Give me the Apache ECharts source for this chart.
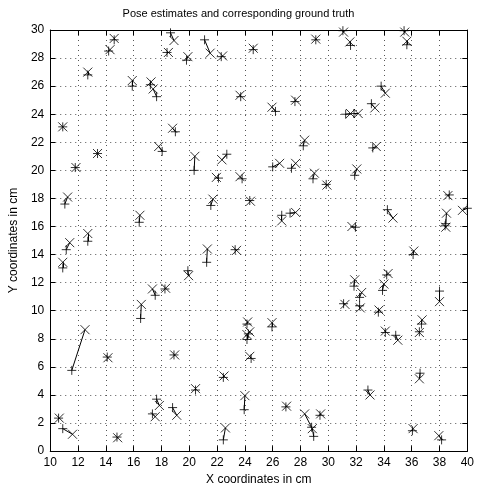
<!DOCTYPE html>
<html>
<head>
<meta charset="utf-8">
<script src="https://cdn.jsdelivr.net/npm/echarts@6/dist/echarts.min.js"></script>
<style>html,body{margin:0;padding:0;background:#fff}#c{width:477px;height:491px}</style>
</head>
<body>
<div id="c"></div>
<script>
// Pose estimates (x markers)
var estX = [14.6,14.3,12.7,15.9,17.25,17.4,18.5,18.9,19.9,10.9,18.8,13.4,17.8,11.85,21.5,22.4,24.6,29.1,23.65,25.95,27.65,28.3,20.4,22.35,26.5,27.65,31.1,31.55,35.5,35.65,34.1,33.35,31.6,32.15,33.45,11.25,16.45,12.7,11.4,10.9,19.95,17.35,18.3,16.55,21.95,23.65,29.0,29.9,21.7,24.4,26.65,27.65,21.3,23.4,32.05,38.6,34.65,38.5,38.45,39.65,31.7,36.15,31.9,32.4,34.3,34.0,38.0,31.2,32.3,33.65,25.95,34.1,35.0,36.75,36.55,36.55,33.0,27.0,28.3,28.85,29.45,36.1,37.95,12.5,14.15,18.95,10.65,11.6,14.85,17.85,17.55,19.1,24.2,24.35,24.15,24.35,22.5,20.45,24.0,22.6];
var estY = [29.4,28.6,27.0,26.4,26.3,25.8,28.4,29.25,28.1,23.1,23.0,21.2,21.7,20.2,28.35,28.15,28.7,29.35,25.35,24.5,25.0,22.15,21.0,20.75,20.5,20.5,29.85,29.15,29.85,29.2,25.5,24.45,24.05,24.05,21.7,18.1,16.8,15.5,14.85,13.45,12.5,11.55,11.6,10.45,19.5,19.55,19.8,18.95,17.95,17.8,16.4,17.0,14.4,14.3,20.1,18.2,16.6,16.95,15.95,17.15,16.0,14.25,12.2,11.3,12.65,11.9,10.65,10.45,10.2,10.05,9.15,8.55,7.9,9.35,8.45,5.15,4.0,3.2,2.65,1.6,2.65,1.6,1.1,8.65,6.65,6.85,2.35,1.2,0.95,3.25,2.45,2.55,9.2,8.5,8.3,6.75,5.35,4.45,3.95,1.65];
// Ground truth (+ markers)
var gtX = [14.6,14.2,12.7,15.9,17.2,17.65,18.4,18.65,19.8,10.9,19.0,13.4,18.05,11.8,21.1,22.3,24.6,29.1,23.7,26.2,27.6,28.2,20.35,22.7,26.0,27.35,31.05,31.6,35.45,35.65,33.8,33.1,31.25,31.85,33.2,11.05,16.4,12.7,11.15,10.9,19.9,17.55,18.25,16.5,22.1,23.8,28.9,29.85,21.55,24.35,26.65,27.25,21.25,23.3,31.9,38.7,34.25,38.45,38.4,40.0,31.95,36.1,31.85,32.25,34.2,33.9,38.0,31.1,32.25,33.6,25.95,34.1,34.85,36.7,36.55,36.6,32.85,26.95,28.8,28.95,29.4,36.05,38.15,11.55,14.1,18.9,10.6,10.9,14.8,17.65,17.35,18.8,24.15,24.25,24.15,24.45,22.45,20.45,23.95,22.45];
var gtY = [29.3,28.5,26.8,26.0,26.1,25.25,28.4,29.8,27.85,23.1,22.75,21.2,21.35,20.2,29.3,28.1,28.6,29.3,25.25,24.2,24.9,21.75,20.0,21.15,20.25,20.15,29.95,28.9,29.95,28.95,26.0,24.75,24.0,24.05,21.6,17.6,16.3,14.95,14.35,13.05,12.85,11.1,11.55,9.45,19.45,19.4,19.4,19.0,17.5,17.85,16.8,16.95,13.45,14.35,19.65,18.25,17.2,16.2,16.05,17.3,15.95,14.0,11.75,10.95,12.55,11.45,11.4,10.5,10.35,9.9,8.85,8.45,8.25,9.05,8.5,5.55,4.35,3.15,1.7,1.05,2.55,1.45,0.8,5.75,6.7,6.85,2.35,1.6,1.0,3.7,2.65,3.1,9.05,8.35,7.95,6.6,5.25,4.35,2.95,0.8];
var xTicks = [10,12,14,16,18,20,22,24,26,28,30,32,34,36,38,40];
var yTicks = [0,2,4,6,8,10,12,14,16,18,20,22,24,26,28,30];

var est = estX.map(function(v,i){return [v, estY[i]];});
var gt = gtX.map(function(v,i){return [v, gtY[i]];});
var links = estX.map(function(v,i){return {coords:[[v, estY[i]],[gtX[i], gtY[i]]]};});

var font = 'Liberation Sans, Arial, Helvetica, sans-serif';
var gridLine = {show:true, lineStyle:{color:'#555', type:[1,4], width:1}};
function mkAxis(pos, isX, main){
  return {
    type:'value', position:pos,
    min: isX ? xTicks[0] : yTicks[0],
    max: isX ? xTicks[xTicks.length-1] : yTicks[yTicks.length-1],
    interval: 2,
    axisLine:{show:true, onZero:false, lineStyle:{color:'#000', width:1}},
    axisTick:{show:true, inside:true, length:5, lineStyle:{color:'#000'}},
    axisLabel:{show:main, color:'#000', fontFamily:font, fontSize:12, margin:6},
    splitLine: main ? gridLine : {show:false},
    name: main ? (isX ? 'X coordinates in cm' : 'Y coordinates in cm') : '',
    nameLocation:'middle',
    nameGap: isX ? 18 : 22,
    nameTextStyle:{color:'#000', fontFamily:font, fontSize:12}
  };
}
var chart = echarts.init(document.getElementById('c'), null, {renderer:'canvas'});
chart.setOption({
  animation:false,
  backgroundColor:'#fff',
  title:{text:'Pose estimates and corresponding ground truth', left:'center', top:3,
    textStyle:{color:'#000', fontFamily:font, fontSize:11, fontWeight:'normal'}},
  grid:{left:42, right:9, top:30, bottom:36},
  xAxis:[mkAxis('bottom', true, true), mkAxis('top', true, false)],
  yAxis:[mkAxis('left', false, true), mkAxis('right', false, false)],
  series:[
    {type:'lines', coordinateSystem:'cartesian2d', xAxisIndex:0, yAxisIndex:0, data:links,
     lineStyle:{color:'#000', width:1, opacity:1}, silent:true},
    {type:'scatter', xAxisIndex:0, yAxisIndex:0, data:est, symbol:'path://M0,0L10,10M10,0L0,10', symbolSize:9,
     itemStyle:{color:'none', borderColor:'#000', borderWidth:1}, clip:false},
    {type:'scatter', xAxisIndex:0, yAxisIndex:0, data:gt, symbol:'path://M5,0L5,10M0,5L10,5', symbolSize:9,
     itemStyle:{color:'none', borderColor:'#000', borderWidth:1}, clip:false}
  ]
});
</script>
</body>
</html>
